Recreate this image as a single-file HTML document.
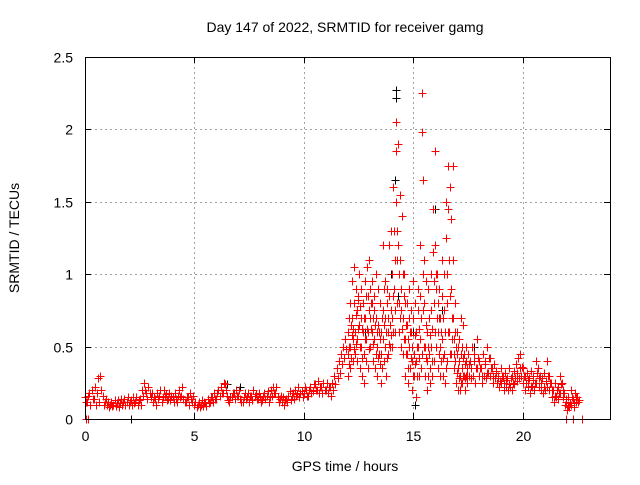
<!DOCTYPE html>
<html><head><meta charset="utf-8"><style>
body{margin:0;background:#fff;}
svg text{font-family:"Liberation Sans",sans-serif;font-size:14px;fill:#000;}
</style></head><body>
<svg id="chart" width="640" height="480">
<text x="345" y="32" text-anchor="middle">Day 147 of 2022, SRMTID for receiver gamg</text>
<text x="345" y="471" text-anchor="middle">GPS time / hours</text>
<text transform="translate(19,238) rotate(-90)" text-anchor="middle">SRMTID / TECUs</text>
<g id="grid"></g>
<g id="ticks"></g>
<g id="pts"></g>
<rect x="85.5" y="57.5" width="525" height="362" fill="none" stroke="#000" shape-rendering="crispEdges"/>
</svg>
<script>
const xTicks=[0,5,10,15,20];
const yTicks=[0,0.5,1,1.5,2,2.5];
const yTickLabels=["0","0.5","1","1.5","2","2.5"];
const baseStart=0, step=0.1;
const baseVals=[0.15,0.12,0.18,0.2,0.14,0.1,0.28,0.3,0.16,0.12,
0.1,0.08,0.12,0.1,0.09,0.13,0.11,0.1,0.14,0.12,
0.1,0.13,0.15,0.12,0.1,0.14,0.2,0.25,0.18,0.22,
0.15,0.12,0.14,0.18,0.16,0.12,0.2,0.17,0.14,0.13,
0.15,0.18,0.12,0.2,0.16,0.14,0.12,0.15,0.18,0.12,
0.1,0.08,0.12,0.1,0.09,0.11,0.14,0.12,0.15,0.18,
0.14,0.2,0.22,0.18,0.24,0.16,0.12,0.15,0.18,0.2,
0.16,0.14,0.12,0.18,0.15,0.12,0.16,0.2,0.17,0.14,
0.15,0.13,0.18,0.16,0.12,0.2,0.22,0.18,0.15,0.14,
0.12,0.1,0.14,0.16,0.13,0.18,0.2,0.17,0.15,0.19,
0.18,0.2,0.16,0.22,0.19,0.24,0.2,0.18,0.22,0.25,
0.2,0.18,0.22,0.25,0.3,0.35,0.4,0.45,0.5,0.55];
const baseVals2=[0.12,0.16,0.1,0.14,0.22,0.18,0.12,0.2,0.1,0.14,
0.12,0.1,0.09,0.13,0.11,0.08,0.14,0.12,0.1,0.15,
0.12,0.1,0.11,0.15,0.13,0.1,0.16,0.2,0.14,0.18,
0.18,0.15,0.1,0.14,0.2,0.15,0.16,0.13,0.18,0.16,
0.12,0.14,0.16,0.15,0.22,0.12,0.15,0.1,0.14,0.16,
0.12,0.1,0.08,0.13,0.12,0.09,0.11,0.15,0.12,0.14,
0.18,0.16,0.18,0.25,0.2,0.13,0.15,0.18,0.14,0.16,
0.2,0.12,0.15,0.14,0.18,0.16,0.13,0.16,0.14,0.18,
0.12,0.16,0.14,0.19,0.15,0.16,0.18,0.22,0.12,0.16,
0.15,0.13,0.12,0.19,0.16,0.14,0.16,0.22,0.18,0.15,
0.22,0.16,0.2,0.18,0.24,0.2,0.26,0.22,0.18,0.2,
0.25,0.22,0.16,0.2,0.24,0.28,0.32,0.38,0.42,0.48];
const stormStart=12.0;
const stormVals=[[0.6,0.45,0.3,0.7,0.5,0.38],[0.8,0.5,0.35,0.65,0.42,0.58],[0.95,0.7,0.4,0.55,0.62,0.48],[1.05,0.8,0.6,0.45,0.72,0.52],[0.9,0.75,0.55,0.4,0.82,0.62],
[0.85,1.0,0.65,0.35,0.78,0.5],[0.7,0.9,0.5,0.3,0.62,0.42],[0.6,0.8,0.45,0.25,0.7,0.55],[0.95,0.7,0.55,0.4,0.85,0.62],[1.05,0.85,0.6,0.35,0.75,0.48],
[1.1,0.9,0.7,0.5,0.8,0.62],[0.95,0.8,0.6,0.4,0.7,0.52],[0.85,0.75,0.55,0.35,0.65,0.45],[1.0,0.7,0.5,0.3,0.6,0.42],[0.9,0.65,0.45,0.6,0.55,0.38],
[0.8,0.6,0.45,0.25,0.7,0.35],[0.75,1.2,0.55,0.4,0.65,0.9],[0.7,0.95,0.5,0.3,0.6,0.42],[0.9,0.8,0.6,0.45,0.7,0.52],[1.2,0.85,0.65,0.5,0.75,0.58],
[1.3,1.0,0.7,0.5,0.85,0.6],[1.6,1.3,0.9,0.6,1.1,0.75],[2.05,1.85,1.5,1.1,1.3,0.8],[1.9,1.2,0.8,0.6,1.0,0.7],[1.55,1.1,0.75,0.5,0.9,0.62],
[1.4,1.0,0.7,0.45,0.85,0.55],[1.0,0.8,0.55,0.3,0.65,0.45],[0.8,0.65,0.45,0.25,0.55,0.35],[0.9,0.7,0.5,0.35,0.6,0.42],[0.75,0.6,0.4,0.2,0.5,0.3],
[0.95,0.7,0.45,0.3,0.58,0.38],[0.8,0.6,0.4,0.15,0.5,0.3],[0.9,0.75,0.5,0.3,0.62,0.42],[1.2,0.85,0.55,0.35,0.7,0.45],[2.25,1.98,1.65,1.0,0.75,0.5],
[1.1,0.8,0.5,0.3,0.65,0.42],[0.95,0.6,0.4,0.2,0.5,0.3],[0.9,0.7,0.45,0.25,0.58,0.35],[1.0,0.75,0.5,0.3,0.62,0.4],[1.45,1.15,0.8,0.4,0.95,0.6],
[1.85,1.2,0.9,0.5,1.0,0.7],[1.0,0.8,0.6,0.35,0.7,0.45],[0.9,0.7,0.5,0.3,0.6,0.4],[1.1,0.85,0.55,0.3,0.7,0.42],[1.0,0.75,0.45,0.25,0.6,0.35],
[1.5,1.25,0.8,0.4,1.0,0.6],[1.75,1.45,1.1,0.6,0.85,0.45],[1.6,1.38,0.9,0.45,0.7,0.55],[1.75,1.1,0.7,0.35,0.55,0.45],[0.8,0.6,0.4,0.25,0.5,0.32],
[0.6,0.45,0.35,0.2,0.5,0.28],[0.55,0.4,0.3,0.2,0.45,0.25],[0.7,0.5,0.35,0.25,0.42,0.3],[0.65,0.45,0.3,0.2,0.38,0.28],[0.5,0.4,0.3,0.25,0.35,0.3]];
const postStart=17.5;
const postVals=[[0.45,0.3,0.38],[0.4,0.28,0.35],[0.5,0.3,0.4],[0.45,0.25,0.35],[0.55,0.35,0.42],[0.4,0.3,0.35],[0.35,0.25,0.3],[0.45,0.3,0.38],[0.4,0.28,0.32],[0.5,0.32,0.42],
[0.42,0.3,0.35],[0.35,0.25,0.3],[0.38,0.28,0.32],[0.33,0.25,0.28],[0.3,0.22,0.26],[0.35,0.25,0.3],[0.3,0.2,0.25],[0.32,0.22,0.27],[0.28,0.2,0.24],[0.35,0.22,0.28],
[0.3,0.2,0.25],[0.33,0.24,0.28],[0.38,0.26,0.32],[0.42,0.28,0.35],[0.45,0.3,0.36],[0.35,0.25,0.3],[0.3,0.2,0.25],[0.32,0.22,0.27],[0.28,0.18,0.23],[0.33,0.22,0.27],
[0.3,0.2,0.25],[0.4,0.25,0.32],[0.35,0.22,0.28],[0.3,0.2,0.25],[0.28,0.18,0.22],[0.32,0.2,0.26],[0.4,0.22,0.3],[0.3,0.2,0.25],[0.25,0.15,0.2],[0.2,0.12,0.16],
[0.25,0.15,0.2],[0.22,0.14,0.18],[0.3,0.18,0.24],[0.25,0.15,0.2],[0.18,0.1,0.14],[0.12,0.06,0.09],[0.15,0.08,0.11],[0.2,0.1,0.15],[0.14,0.08,0.11],[0.18,0.12,0.15],[0.15,0.12,0.13]];
const zeroTimes=[0.05,0.12,22.0,22.3,22.7];
const blackTimes=[14.2,14.2,14.15,14.0,14.3,15.0,15.1,16.0,16.3,16.9,12.8,13.2,2.1,6.5,7.1,18.5,17.8];
const blackVals=[2.27,2.22,1.65,1.0,0.85,0.6,0.1,1.45,0.75,0.8,0.6,0.55,0,0.24,0.22,0.3,0.5];

const X0=85,X1=610,Y0=419,Y1=57,XMAX=24,YMAX=2.5;
const xs=t=>X0+t/XMAX*(X1-X0);
const ys=v=>Y0-v/YMAX*(Y0-Y1);
const NS="http://www.w3.org/2000/svg";
const grid=document.getElementById('grid'),ticks=document.getElementById('ticks'),pts=document.getElementById('pts');
function mk(tag,attrs,parent){const e=document.createElementNS(NS,tag);for(const k in attrs)e.setAttribute(k,attrs[k]);parent.appendChild(e);return e;}
xTicks.forEach(t=>{const x=Math.round(xs(t))+0.5;
 if(t>0){const g=mk('line',{x1:x,x2:x,y1:Y0,y2:Y1,stroke:'#a0a0a0','stroke-dasharray':'2,3'},grid);
 
 }
 const tk=mk('path',{d:`M${x} ${Y0}v-6M${x} ${Y1}v6`,stroke:'#000'},ticks);
 
 
 const l=mk('text',{x:x,y:Y0+22,'text-anchor':'middle'},ticks);l.textContent=t;
 
 
});
yTicks.forEach((v,i)=>{const y=Math.round(ys(v))+0.5;
 if(v>0&&v<YMAX){const g=mk('line',{x1:X0,x2:X1,y1:y,y2:y,stroke:'#a0a0a0','stroke-dasharray':'2,3'},grid);
 
 }
 const tk=mk('path',{d:`M${X0} ${y}h6M${X1} ${y}h-6`,stroke:'#000'},ticks);
 
 
 const l=mk('text',{x:X0-12,y:y+5,'text-anchor':'end'},ticks);l.textContent=yTickLabels[i];
 
 
});
let red="",blk="";
const plus=(t,v)=>{const x=Math.round(xs(t))+0.5,y=Math.round(ys(v))+0.5;return `M${x-4} ${y}h8M${x} ${y-4}v8`;};
baseVals.forEach((v,i)=>red+=plus(baseStart+i*step,v));
baseVals2.forEach((v,i)=>red+=plus(baseStart+i*step+0.05,v));
stormVals.forEach((a,i)=>a.forEach((v,j)=>red+=plus(stormStart+i*step+j*0.017,v)));
postVals.forEach((a,i)=>a.forEach((v,j)=>red+=plus(postStart+i*step+j*0.033,v)));
zeroTimes.forEach(t=>red+=plus(t,0));
blackTimes.forEach((t,i)=>blk+=plus(t,blackVals[i]));
const pb=mk('path',{d:blk,stroke:'#000','stroke-width':1,fill:'none','shape-rendering':'crispEdges'},pts);


const pr=mk('path',{d:red,stroke:'#ff0000','stroke-width':1,fill:'none','shape-rendering':'crispEdges'},pts);


</script>
</body></html>
